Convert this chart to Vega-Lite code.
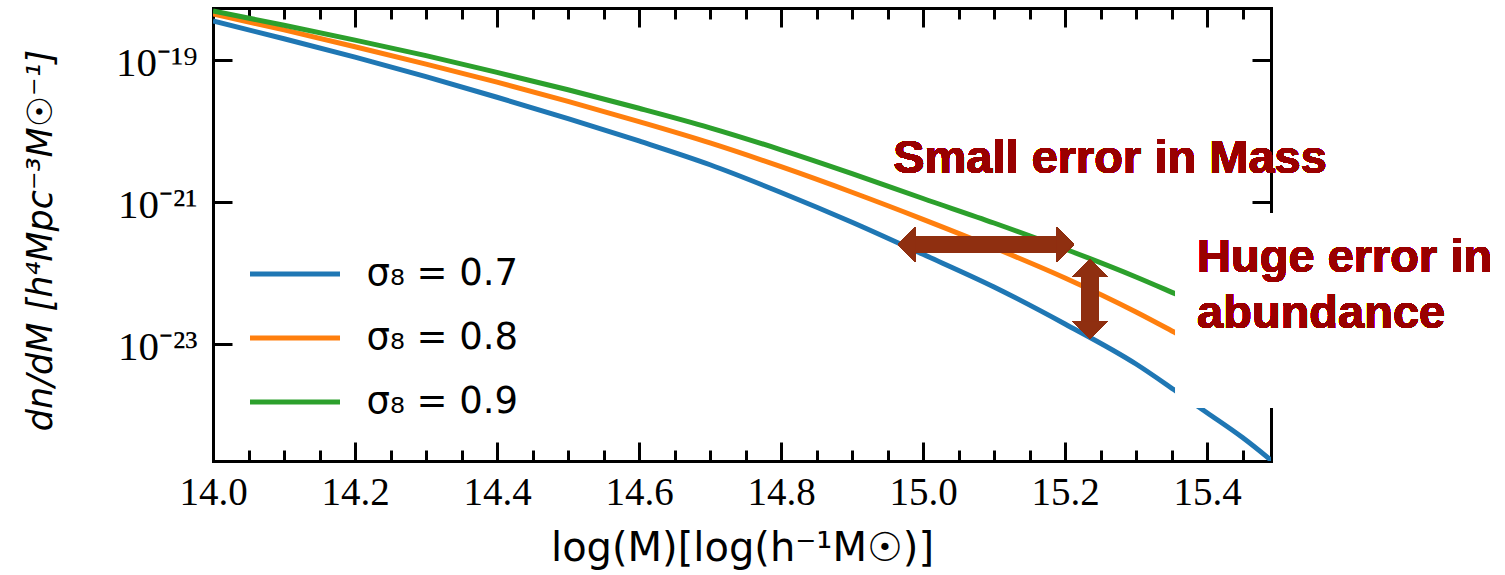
{
  "$schema": "https://vega.github.io/schema/vega-lite/v6.json",
  "width": 1058,
  "height": 453,
  "autosize": {"type": "none"},
  "padding": {"left": 213, "top": 8, "right": 234, "bottom": 114},
  "background": "white",
  "config": {
    "view": {"stroke": null},
    "axis": {
      "grid": false,
      "domainColor": "black",
      "domainWidth": 3,
      "domainCap": "square",
      "tickColor": "black",
      "tickWidth": 3,
      "labelColor": "black",
      "titleColor": "black",
      "zindex": 0
    }
  },
  "datasets": {
    "curves": [
      {"series": "σ₈ = 0.7", "logM": 14.0, "dndM": 3.540e-19},
      {"series": "σ₈ = 0.7", "logM": 14.1, "dndM": 1.991e-19},
      {"series": "σ₈ = 0.7", "logM": 14.2, "dndM": 1.094e-19},
      {"series": "σ₈ = 0.7", "logM": 14.3, "dndM": 5.821e-20},
      {"series": "σ₈ = 0.7", "logM": 14.4, "dndM": 2.985e-20},
      {"series": "σ₈ = 0.7", "logM": 14.5, "dndM": 1.496e-20},
      {"series": "σ₈ = 0.7", "logM": 14.6, "dndM": 7.228e-21},
      {"series": "σ₈ = 0.7", "logM": 14.7, "dndM": 3.342e-21},
      {"series": "σ₈ = 0.7", "logM": 14.8, "dndM": 1.361e-21},
      {"series": "σ₈ = 0.7", "logM": 14.9, "dndM": 5.176e-22},
      {"series": "σ₈ = 0.7", "logM": 15.0, "dndM": 1.832e-22},
      {"series": "σ₈ = 0.7", "logM": 15.1, "dndM": 6.353e-23},
      {"series": "σ₈ = 0.7", "logM": 15.2, "dndM": 1.914e-23},
      {"series": "σ₈ = 0.7", "logM": 15.3, "dndM": 5.224e-24},
      {"series": "σ₈ = 0.7", "logM": 15.356, "dndM": 2.178e-24},
      {"series": "σ₈ = 0.7", "logM": 15.4, "dndM": 1.076e-24},
      {"series": "σ₈ = 0.7", "logM": 15.45, "dndM": 4.808e-25},
      {"series": "σ₈ = 0.7", "logM": 15.5, "dndM": 1.914e-25},
      {"series": "σ₈ = 0.8", "logM": 14.0, "dndM": 4.446e-19},
      {"series": "σ₈ = 0.8", "logM": 14.1, "dndM": 2.649e-19},
      {"series": "σ₈ = 0.8", "logM": 14.2, "dndM": 1.538e-19},
      {"series": "σ₈ = 0.8", "logM": 14.3, "dndM": 8.750e-20},
      {"series": "σ₈ = 0.8", "logM": 14.4, "dndM": 4.864e-20},
      {"series": "σ₈ = 0.8", "logM": 14.5, "dndM": 2.612e-20},
      {"series": "σ₈ = 0.8", "logM": 14.6, "dndM": 1.355e-20},
      {"series": "σ₈ = 0.8", "logM": 14.7, "dndM": 6.792e-21},
      {"series": "σ₈ = 0.8", "logM": 14.8, "dndM": 3.141e-21},
      {"series": "σ₈ = 0.8", "logM": 14.9, "dndM": 1.371e-21},
      {"series": "σ₈ = 0.8", "logM": 15.0, "dndM": 5.702e-22},
      {"series": "σ₈ = 0.8", "logM": 15.1, "dndM": 2.270e-22},
      {"series": "σ₈ = 0.8", "logM": 15.2, "dndM": 8.511e-23},
      {"series": "σ₈ = 0.8", "logM": 15.3, "dndM": 2.825e-23},
      {"series": "σ₈ = 0.8", "logM": 15.356, "dndM": 1.429e-23},
      {"series": "σ₈ = 0.8", "logM": 15.45, "dndM": 4.446e-24},
      {"series": "σ₈ = 0.9", "logM": 14.0, "dndM": 4.898e-19},
      {"series": "σ₈ = 0.9", "logM": 14.1, "dndM": 3.090e-19},
      {"series": "σ₈ = 0.9", "logM": 14.2, "dndM": 1.905e-19},
      {"series": "σ₈ = 0.9", "logM": 14.3, "dndM": 1.151e-19},
      {"series": "σ₈ = 0.9", "logM": 14.4, "dndM": 6.683e-20},
      {"series": "σ₈ = 0.9", "logM": 14.5, "dndM": 3.802e-20},
      {"series": "σ₈ = 0.9", "logM": 14.6, "dndM": 2.089e-20},
      {"series": "σ₈ = 0.9", "logM": 14.7, "dndM": 1.109e-20},
      {"series": "σ₈ = 0.9", "logM": 14.8, "dndM": 5.433e-21},
      {"series": "σ₈ = 0.9", "logM": 14.9, "dndM": 2.512e-21},
      {"series": "σ₈ = 0.9", "logM": 15.0, "dndM": 1.119e-21},
      {"series": "σ₈ = 0.9", "logM": 15.1, "dndM": 5.058e-22},
      {"series": "σ₈ = 0.9", "logM": 15.2, "dndM": 2.178e-22},
      {"series": "σ₈ = 0.9", "logM": 15.3, "dndM": 8.790e-23},
      {"series": "σ₈ = 0.9", "logM": 15.356, "dndM": 5.058e-23},
      {"series": "σ₈ = 0.9", "logM": 15.45, "dndM": 1.977e-23}
    ]
  },
  "data": {"name": "curves"},
  "layer": [
    {
      "mark": {"type": "line", "strokeWidth": 5, "clip": true, "interpolate": "monotone"},
      "encoding": {
        "x": {
          "field": "logM", "type": "quantitative",
          "scale": {"domain": [14, 15.4901], "nice": false, "zero": false},
          "axis": {
            "orient": "bottom",
            "values": [14, 14.2, 14.4, 14.6, 14.8, 15, 15.2, 15.4],
            "format": ".1f",
            "tickSize": -19,
            "labelPadding": 31,
            "labelFont": "Liberation Serif",
            "labelFontSize": 39,
            "labelFlush": false,
            "labelOverlap": false,
            "title": "log(M)[log(h⁻¹M☉)]",
            "titleFont": "DejaVu Sans",
            "titleFontSize": 40,
            "titleFontWeight": "normal",
            "titleX": 529,
            "titleY": 99,
            "titleAlign": "center",
            "titleBaseline": "alphabetic"
          }
        },
        "y": {
          "field": "dndM", "type": "quantitative",
          "scale": {"type": "log", "domain": [2.249e-25, 5.395e-19], "nice": false},
          "axis": {
            "orient": "left",
            "values": [1e-19, 1e-21, 1e-23],
            "labelExpr": "round(log(datum.value)/LN10) == -19 ? '10⁻¹⁹' : (round(log(datum.value)/LN10) == -21 ? '10⁻²¹' : '10⁻²³')",
            "tickSize": -19,
            "labelPadding": 35,
            "labelFont": "Liberation Serif",
            "labelFontSize": 41,
            "labelOffset": 4,
            "labelOverlap": false,
            "labelFlush": false,
            "title": "dn/dM [h⁴Mpc⁻³M☉⁻¹]",
            "titleFont": "DejaVu Sans",
            "titleFontStyle": "italic",
            "titleFontWeight": "normal",
            "titleFontSize": 35,
            "titleAngle": -90,
            "titleX": -173,
            "titleY": 232,
            "titleAlign": "center",
            "titleBaseline": "middle"
          }
        },
        "color": {
          "field": "series", "type": "nominal",
          "scale": {"domain": ["σ₈ = 0.7", "σ₈ = 0.8", "σ₈ = 0.9"], "range": ["#1f77b4", "#ff7f0e", "#2ca02c"]},
          "legend": {
            "orient": "none",
            "legendX": 63.5,
            "legendY": 247.5,
            "title": null,
            "symbolType": "M-3,0H3",
            "symbolSize": 900,
            "symbolStrokeWidth": 5,
            "symbolOffset": 0,
            "labelFont": "DejaVu Sans",
            "labelFontSize": 37,
            "labelColor": "black",
            "labelOffset": 53,
            "labelLimit": 400,
            "rowPadding": 26,
            "padding": 0
          }
        }
      }
    },
    {
      "mark": {"type": "point", "opacity": 0},
      "encoding": {
        "x": {
          "field": "logM", "type": "quantitative",
          "scale": {"domain": [14, 15.4901], "nice": false, "zero": false},
          "axis": {
            "orient": "bottom",
            "values": [14.05, 14.1, 14.15, 14.25, 14.3, 14.35, 14.45, 14.5, 14.55, 14.65, 14.7, 14.75, 14.85, 14.9, 14.95, 15.05, 15.1, 15.15, 15.25, 15.3, 15.35, 15.45],
            "tickSize": -11,
            "labels": false,
            "domain": false,
            "title": null
          }
        },
        "y": {
          "field": "dndM", "type": "quantitative",
          "scale": {"type": "log", "domain": [2.249e-25, 5.395e-19], "nice": false},
          "axis": {
            "orient": "right",
            "values": [1e-19, 1e-21, 1e-23],
            "tickSize": -19,
            "labels": false,
            "title": null
          }
        }
      }
    },
    {
      "mark": {"type": "point", "opacity": 0},
      "encoding": {
        "x": {
          "field": "logM", "type": "quantitative",
          "scale": {"domain": [14, 15.4901], "nice": false, "zero": false},
          "axis": {
            "orient": "top",
            "values": [14, 14.2, 14.4, 14.6, 14.8, 15, 15.2, 15.4],
            "tickSize": -19,
            "labels": false,
            "title": null
          }
        },
        "y": {
          "field": "dndM", "type": "quantitative",
          "scale": {"type": "log", "domain": [2.249e-25, 5.395e-19], "nice": false},
          "axis": null
        }
      }
    },
    {
      "mark": {"type": "point", "opacity": 0},
      "encoding": {
        "x": {
          "field": "logM", "type": "quantitative",
          "scale": {"domain": [14, 15.4901], "nice": false, "zero": false},
          "axis": {
            "orient": "top",
            "values": [14.05, 14.1, 14.15, 14.25, 14.3, 14.35, 14.45, 14.5, 14.55, 14.65, 14.7, 14.75, 14.85, 14.9, 14.95, 15.05, 15.1, 15.15, 15.25, 15.3, 15.35, 15.45],
            "tickSize": -11,
            "labels": false,
            "domain": false,
            "title": null
          }
        },
        "y": {
          "field": "dndM", "type": "quantitative",
          "scale": {"type": "log", "domain": [2.249e-25, 5.395e-19], "nice": false},
          "axis": null
        }
      }
    },
    {
      "mark": {"type": "rect", "color": "white"},
      "encoding": {
        "x": {"datum": 15.356, "type": "quantitative", "axis": null},
        "x2": {"datum": 15.8},
        "y": {"datum": 7.0e-22, "type": "quantitative", "axis": null},
        "y2": {"datum": 1.256e-24}
      }
    },
    {
      "mark": {"type": "rule", "strokeWidth": 17, "color": "#8f2f10", "strokeCap": "butt"},
      "encoding": {
        "x": {"datum": 14.98, "type": "quantitative", "axis": null},
        "x2": {"datum": 15.2},
        "y": {"datum": 2.518e-22, "type": "quantitative", "axis": null}
      }
    },
    {
      "mark": {"type": "rule", "strokeWidth": 17, "color": "#8f2f10", "strokeCap": "butt"},
      "encoding": {
        "x": {"datum": 15.2352, "type": "quantitative", "axis": null},
        "y": {"datum": 1.102e-22, "type": "quantitative", "axis": null},
        "y2": {"datum": 1.574e-23}
      }
    },
    {
      "mark": {"type": "point", "filled": true, "size": 1225, "color": "#8f2f10", "opacity": 1, "strokeWidth": 0, "shape": "M0,0L1,-1L1,1Z"},
      "encoding": {
        "x": {"datum": 14.9648, "type": "quantitative", "axis": null},
        "y": {"datum": 2.518e-22, "type": "quantitative", "axis": null}
      }
    },
    {
      "mark": {"type": "point", "filled": true, "size": 1225, "color": "#8f2f10", "opacity": 1, "strokeWidth": 0, "shape": "M0,0L-1,-1L-1,1Z"},
      "encoding": {
        "x": {"datum": 15.2127, "type": "quantitative", "axis": null},
        "y": {"datum": 2.518e-22, "type": "quantitative", "axis": null}
      }
    },
    {
      "mark": {"type": "point", "filled": true, "size": 1225, "color": "#8f2f10", "opacity": 1, "strokeWidth": 0, "shape": "M0,0L-1,1L1,1Z"},
      "encoding": {
        "x": {"datum": 15.2352, "type": "quantitative", "axis": null},
        "y": {"datum": 1.549e-22, "type": "quantitative", "axis": null}
      }
    },
    {
      "mark": {"type": "point", "filled": true, "size": 1225, "color": "#8f2f10", "opacity": 1, "strokeWidth": 0, "shape": "M0,0L-1,-1L1,-1Z"},
      "encoding": {
        "x": {"datum": 15.2352, "type": "quantitative", "axis": null},
        "y": {"datum": 1.175e-23, "type": "quantitative", "axis": null}
      }
    },
    {
      "mark": {"type": "text", "font": "Liberation Sans", "fontWeight": "bold", "fontSize": 47, "color": "#990000", "align": "left", "baseline": "alphabetic"},
      "encoding": {
        "x": {"datum": 14.958, "type": "quantitative", "axis": null},
        "y": {"datum": 2.559e-21, "type": "quantitative", "axis": null},
        "text": {"value": "Small error in Mass"}
      }
    },
    {
      "mark": {"type": "text", "font": "Liberation Sans", "fontWeight": "bold", "fontSize": 47, "color": "#990000", "align": "left", "baseline": "alphabetic"},
      "encoding": {
        "x": {"datum": 15.386, "type": "quantitative", "axis": null},
        "y": {"datum": 1.033e-22, "type": "quantitative", "axis": null},
        "text": {"value": "Huge error in"}
      }
    },
    {
      "mark": {"type": "text", "font": "Liberation Sans", "fontWeight": "bold", "fontSize": 47, "color": "#990000", "align": "left", "baseline": "alphabetic"},
      "encoding": {
        "x": {"datum": 15.386, "type": "quantitative", "axis": null},
        "y": {"datum": 1.679e-23, "type": "quantitative", "axis": null},
        "text": {"value": "abundance"}
      }
    }
  ],
  "resolve": {"axis": {"x": "independent", "y": "independent"}}
}
